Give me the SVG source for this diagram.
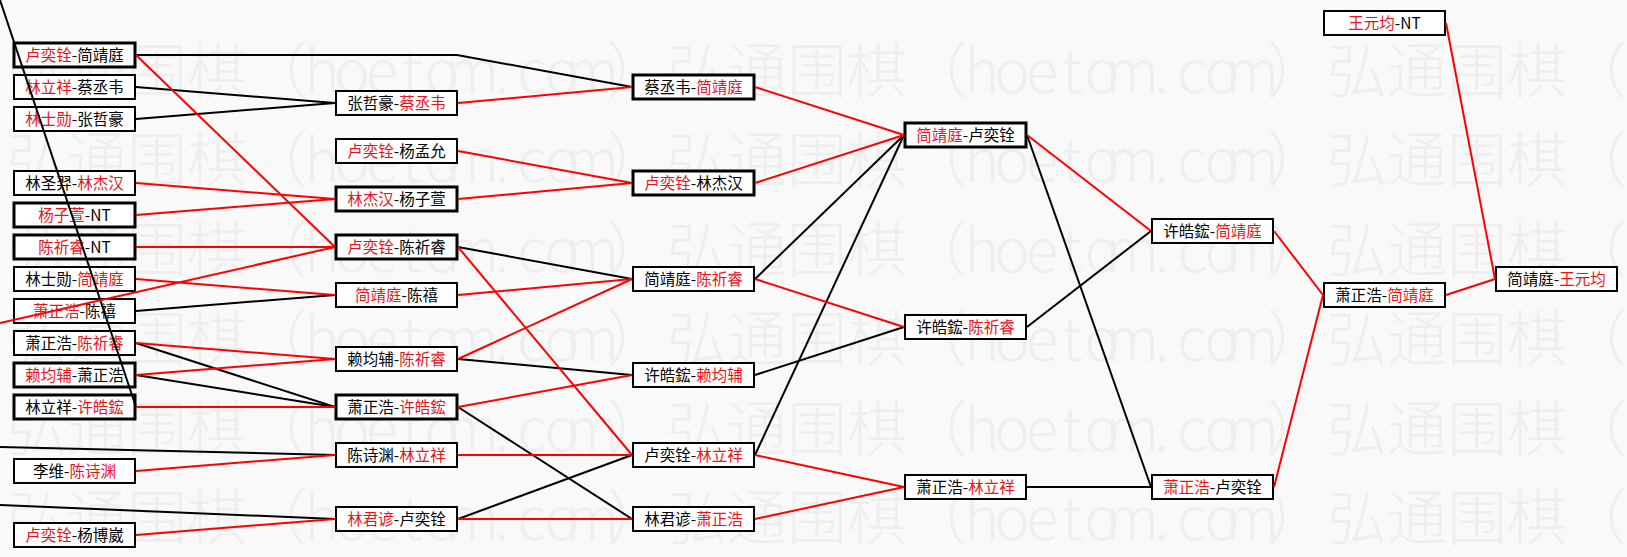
<svg xmlns="http://www.w3.org/2000/svg" width="1627" height="557" viewBox="0 0 1627 557">
<style>
.bg{fill:#f9f9f9}
.wm{font-family:"Noto Sans CJK SC","Noto Sans CJK JP",sans-serif;font-size:60px;font-weight:300;fill:#eeeeee;text-anchor:middle}
.b{fill:#fff;stroke:#000;stroke-width:2}
.bt{stroke-width:3}
.t{font-family:"Noto Sans CJK SC","Noto Sans CJK JP",sans-serif;font-size:15.5px;text-anchor:middle;fill:#000}
.r{fill:#e8141b}
.lr{stroke:#f00;stroke-width:2;fill:none}
.lk{stroke:#000;stroke-width:2;fill:none}
</style>
<rect class="bg" x="0" y="0" width="1627" height="557"/>
<g id="watermark">
<text class="wm" y="93" x="37 97 157 217 277 322 352 382 412 442 472 502 532 562 592 637 697 757 817 877 937 982 1012 1042 1072 1102 1132 1162 1192 1222 1252 1297 1357 1417 1477 1537 1597">弘通围棋（hoetom.com）弘通围棋（hoetom.com）弘通围棋（</text>
<text class="wm" y="182" x="37 97 157 217 277 322 352 382 412 442 472 502 532 562 592 637 697 757 817 877 937 982 1012 1042 1072 1102 1132 1162 1192 1222 1252 1297 1357 1417 1477 1537 1597">弘通围棋（hoetom.com）弘通围棋（hoetom.com）弘通围棋（</text>
<text class="wm" y="272" x="37 97 157 217 277 322 352 382 412 442 472 502 532 562 592 637 697 757 817 877 937 982 1012 1042 1072 1102 1132 1162 1192 1222 1252 1297 1357 1417 1477 1537 1597">弘通围棋（hoetom.com）弘通围棋（hoetom.com）弘通围棋（</text>
<text class="wm" y="361" x="37 97 157 217 277 322 352 382 412 442 472 502 532 562 592 637 697 757 817 877 937 982 1012 1042 1072 1102 1132 1162 1192 1222 1252 1297 1357 1417 1477 1537 1597">弘通围棋（hoetom.com）弘通围棋（hoetom.com）弘通围棋（</text>
<text class="wm" y="451" x="37 97 157 217 277 322 352 382 412 442 472 502 532 562 592 637 697 757 817 877 937 982 1012 1042 1072 1102 1132 1162 1192 1222 1252 1297 1357 1417 1477 1537 1597">弘通围棋（hoetom.com）弘通围棋（hoetom.com）弘通围棋（</text>
<text class="wm" y="540" x="37 97 157 217 277 322 352 382 412 442 472 502 532 562 592 637 697 757 817 877 937 982 1012 1042 1072 1102 1132 1162 1192 1222 1252 1297 1357 1417 1477 1537 1597">弘通围棋（hoetom.com）弘通围棋（hoetom.com）弘通围棋（</text>
</g>
<g id="nodes">
<g id="c1n1"><rect class="b bt" x="14" y="43" width="121" height="24"/><text class="t" x="74.5" y="61"><tspan class="r">卢奕铨</tspan>-简靖庭</text></g>
<g id="c1n2"><rect class="b" x="14" y="75" width="121" height="24"/><text class="t" x="74.5" y="93"><tspan class="r">林立祥</tspan>-蔡丞韦</text></g>
<g id="c1n3"><rect class="b" x="14" y="107" width="121" height="24"/><text class="t" x="74.5" y="125"><tspan class="r">林士勋</tspan>-张哲豪</text></g>
<g id="c1n4"><rect class="b" x="14" y="171" width="121" height="24"/><text class="t" x="74.5" y="189">林圣羿-<tspan class="r">林杰汉</tspan></text></g>
<g id="c1n5"><rect class="b bt" x="14" y="203" width="121" height="24"/><text class="t" x="74.5" y="221"><tspan class="r">杨子萱</tspan>-NT</text></g>
<g id="c1n6"><rect class="b bt" x="14" y="235" width="121" height="24"/><text class="t" x="74.5" y="253"><tspan class="r">陈祈睿</tspan>-NT</text></g>
<g id="c1n7"><rect class="b" x="14" y="267" width="121" height="24"/><text class="t" x="74.5" y="285">林士勋-<tspan class="r">简靖庭</tspan></text></g>
<g id="c1n8"><rect class="b" x="14" y="299" width="121" height="24"/><text class="t" x="74.5" y="317"><tspan class="r">萧正浩</tspan>-陈禧</text></g>
<g id="c1n9"><rect class="b" x="14" y="331" width="121" height="24"/><text class="t" x="74.5" y="349">萧正浩-<tspan class="r">陈祈睿</tspan></text></g>
<g id="c1n10"><rect class="b bt" x="14" y="363" width="121" height="24"/><text class="t" x="74.5" y="381"><tspan class="r">赖均辅</tspan>-萧正浩</text></g>
<g id="c1n11"><rect class="b bt" x="14" y="395" width="121" height="24"/><text class="t" x="74.5" y="413">林立祥-<tspan class="r">许皓鋐</tspan></text></g>
<g id="c1n12"><rect class="b" x="14" y="459" width="121" height="24"/><text class="t" x="74.5" y="477">李维-<tspan class="r">陈诗渊</tspan></text></g>
<g id="c1n13"><rect class="b" x="14" y="523" width="121" height="24"/><text class="t" x="74.5" y="541"><tspan class="r">卢奕铨</tspan>-杨博崴</text></g>

<g id="c2n1"><rect class="b" x="336" y="91" width="121" height="24"/><text class="t" x="396.5" y="109">张哲豪-<tspan class="r">蔡丞韦</tspan></text></g>
<g id="c2n2"><rect class="b" x="336" y="139" width="121" height="24"/><text class="t" x="396.5" y="157"><tspan class="r">卢奕铨</tspan>-杨孟允</text></g>
<g id="c2n3"><rect class="b bt" x="336" y="187" width="121" height="24"/><text class="t" x="396.5" y="205"><tspan class="r">林杰汉</tspan>-杨子萱</text></g>
<g id="c2n4"><rect class="b bt" x="336" y="235" width="121" height="24"/><text class="t" x="396.5" y="253"><tspan class="r">卢奕铨</tspan>-陈祈睿</text></g>
<g id="c2n5"><rect class="b" x="336" y="283" width="121" height="24"/><text class="t" x="396.5" y="301"><tspan class="r">简靖庭</tspan>-陈禧</text></g>
<g id="c2n6"><rect class="b" x="336" y="347" width="121" height="24"/><text class="t" x="396.5" y="365">赖均辅-<tspan class="r">陈祈睿</tspan></text></g>
<g id="c2n7"><rect class="b bt" x="336" y="395" width="121" height="24"/><text class="t" x="396.5" y="413">萧正浩-<tspan class="r">许皓鋐</tspan></text></g>
<g id="c2n8"><rect class="b" x="336" y="443" width="121" height="24"/><text class="t" x="396.5" y="461">陈诗渊-<tspan class="r">林立祥</tspan></text></g>
<g id="c2n9"><rect class="b" x="336" y="507" width="121" height="24"/><text class="t" x="396.5" y="525"><tspan class="r">林君谚</tspan>-卢奕铨</text></g>

<g id="c3n1"><rect class="b bt" x="633" y="75" width="121" height="24"/><text class="t" x="693.5" y="93">蔡丞韦-<tspan class="r">简靖庭</tspan></text></g>
<g id="c3n2"><rect class="b bt" x="633" y="171" width="121" height="24"/><text class="t" x="693.5" y="189"><tspan class="r">卢奕铨</tspan>-林杰汉</text></g>
<g id="c3n3"><rect class="b" x="633" y="267" width="121" height="24"/><text class="t" x="693.5" y="285">简靖庭-<tspan class="r">陈祈睿</tspan></text></g>
<g id="c3n4"><rect class="b" x="633" y="363" width="121" height="24"/><text class="t" x="693.5" y="381">许皓鋐-<tspan class="r">赖均辅</tspan></text></g>
<g id="c3n5"><rect class="b" x="633" y="443" width="121" height="24"/><text class="t" x="693.5" y="461">卢奕铨-<tspan class="r">林立祥</tspan></text></g>
<g id="c3n6"><rect class="b" x="633" y="507" width="121" height="24"/><text class="t" x="693.5" y="525">林君谚-<tspan class="r">萧正浩</tspan></text></g>

<g id="c4n1"><rect class="b bt" x="905" y="123" width="121" height="24"/><text class="t" x="965.5" y="141"><tspan class="r">简靖庭</tspan>-卢奕铨</text></g>
<g id="c4n2"><rect class="b" x="905" y="315" width="121" height="24"/><text class="t" x="965.5" y="333">许皓鋐-<tspan class="r">陈祈睿</tspan></text></g>
<g id="c4n3"><rect class="b" x="905" y="475" width="121" height="24"/><text class="t" x="965.5" y="493">萧正浩-<tspan class="r">林立祥</tspan></text></g>

<g id="c5n1"><rect class="b" x="1152" y="219" width="121" height="24"/><text class="t" x="1212.5" y="237">许皓鋐-<tspan class="r">简靖庭</tspan></text></g>
<g id="c5n2"><rect class="b" x="1152" y="475" width="121" height="24"/><text class="t" x="1212.5" y="493"><tspan class="r">萧正浩</tspan>-卢奕铨</text></g>

<g id="c6n1"><rect class="b" x="1324" y="11" width="121" height="24"/><text class="t" x="1384.5" y="29"><tspan class="r">王元均</tspan>-NT</text></g>
<g id="c6n2"><rect class="b" x="1324" y="283" width="121" height="24"/><text class="t" x="1384.5" y="301">萧正浩-<tspan class="r">简靖庭</tspan></text></g>

<g id="c7n1"><rect class="b" x="1496" y="267" width="121" height="24"/><text class="t" x="1556.5" y="285">简靖庭-<tspan class="r">王元均</tspan></text></g>
</g>
<g id="connectors">
<polyline class="lk" points="136,55 457,55 632,87"/>
<line class="lk" x1="136" y1="87" x2="335" y2="103"/>
<line class="lk" x1="136" y1="119" x2="335" y2="103"/>
<line class="lk" x1="136" y1="311" x2="335" y2="295"/>
<line class="lk" x1="136" y1="343" x2="335" y2="407"/>
<line class="lk" x1="136" y1="375" x2="335" y2="407"/>
<line class="lk" x1="0" y1="0" x2="136" y2="407"/>
<line class="lk" x1="0" y1="447" x2="335" y2="455"/>
<line class="lk" x1="0" y1="505" x2="335" y2="519"/>
<line class="lk" x1="458" y1="247" x2="632" y2="279"/>
<line class="lk" x1="458" y1="359" x2="632" y2="375"/>
<line class="lk" x1="458" y1="407" x2="632" y2="519"/>
<line class="lk" x1="458" y1="519" x2="632" y2="455"/>
<line class="lk" x1="755" y1="279" x2="904" y2="135"/>
<line class="lk" x1="755" y1="455" x2="904" y2="135"/>
<line class="lk" x1="755" y1="375" x2="904" y2="327"/>
<line class="lk" x1="1027" y1="135" x2="1151" y2="487"/>
<line class="lk" x1="1027" y1="327" x2="1151" y2="231"/>
<line class="lk" x1="1027" y1="487" x2="1151" y2="487"/>

<line class="lr" x1="136" y1="55" x2="335" y2="247"/>
<line class="lr" x1="136" y1="183" x2="335" y2="199"/>
<line class="lr" x1="136" y1="215" x2="335" y2="199"/>
<line class="lr" x1="136" y1="247" x2="335" y2="247"/>
<line class="lr" x1="0" y1="323" x2="335" y2="247"/>
<line class="lr" x1="136" y1="279" x2="335" y2="295"/>
<line class="lr" x1="136" y1="343" x2="335" y2="359"/>
<line class="lr" x1="136" y1="375" x2="335" y2="359"/>
<line class="lr" x1="136" y1="407" x2="335" y2="407"/>
<line class="lr" x1="136" y1="471" x2="335" y2="455"/>
<line class="lr" x1="136" y1="535" x2="335" y2="519"/>
<line class="lr" x1="458" y1="103" x2="632" y2="87"/>
<line class="lr" x1="458" y1="151" x2="632" y2="183"/>
<line class="lr" x1="458" y1="199" x2="632" y2="183"/>
<line class="lr" x1="458" y1="295" x2="632" y2="279"/>
<line class="lr" x1="458" y1="359" x2="632" y2="279"/>
<line class="lr" x1="458" y1="407" x2="632" y2="375"/>
<line class="lr" x1="458" y1="247" x2="632" y2="455"/>
<line class="lr" x1="458" y1="455" x2="632" y2="455"/>
<line class="lr" x1="458" y1="519" x2="632" y2="519"/>
<line class="lr" x1="755" y1="87" x2="904" y2="135"/>
<line class="lr" x1="755" y1="183" x2="904" y2="135"/>
<line class="lr" x1="755" y1="279" x2="904" y2="327"/>
<line class="lr" x1="755" y1="455" x2="904" y2="487"/>
<line class="lr" x1="755" y1="519" x2="904" y2="487"/>
<line class="lr" x1="1027" y1="135" x2="1151" y2="231"/>
<line class="lr" x1="1274" y1="231" x2="1323" y2="295"/>
<line class="lr" x1="1274" y1="487" x2="1323" y2="295"/>
<line class="lr" x1="1446" y1="295" x2="1495" y2="279"/>
<line class="lr" x1="1446" y1="23" x2="1495" y2="279"/>
</g>
</svg>
